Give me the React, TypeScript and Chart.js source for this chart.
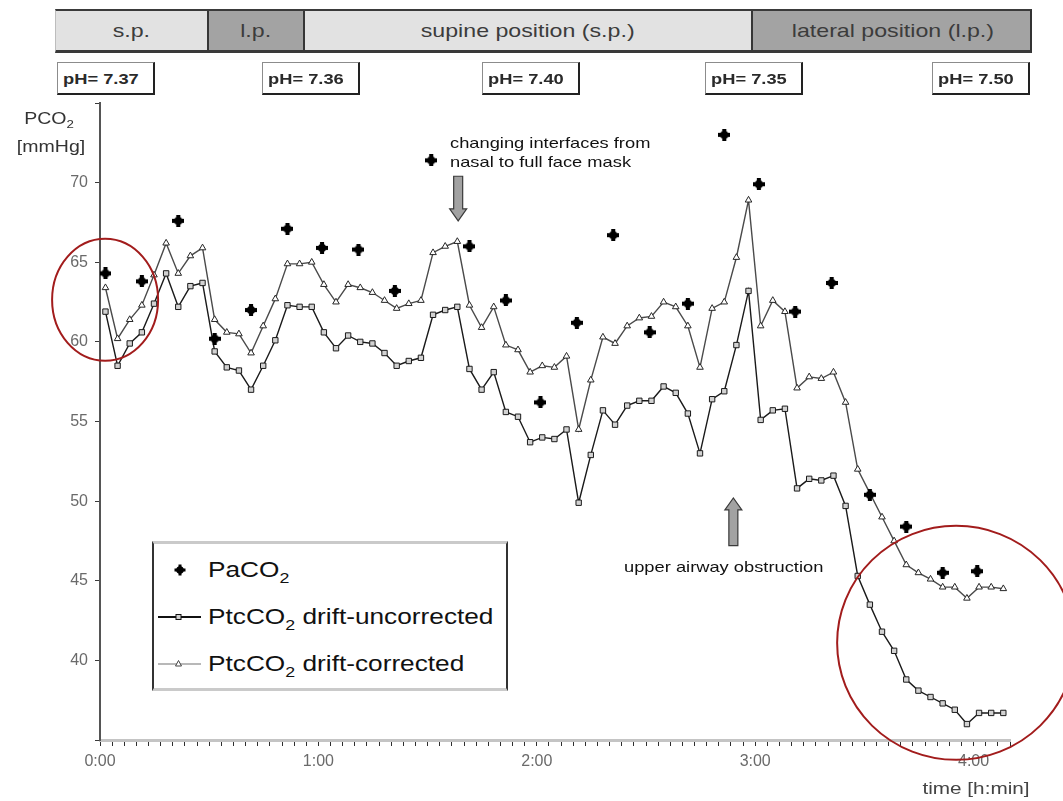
import React, { useEffect, useRef } from 'react';
import { Chart, registerables } from 'chart.js';

Chart.register(...registerables);

// ---- data -----------------------------------------------------------------

// Transcutaneous PCO2 is logged every 200 s (3 min 20 s)
const SAMPLE_STEP_MIN = 10 / 3;
const FIRST_SAMPLE_MIN = 1.5;

// PtcCO2 as displayed by the monitor (mmHg)
const PTCCO2_UNCORRECTED = [
  61.9, 58.5, 59.9, 60.6, 62.4, 64.3, 62.2, 63.5, 63.7, 59.4,
  58.4, 58.2, 57.0, 58.5, 60.1, 62.3, 62.2, 62.2, 60.6, 59.6,
  60.4, 60.0, 59.9, 59.3, 58.5, 58.8, 59.0, 61.7, 62.0, 62.2,
  58.3, 57.0, 58.1, 55.6, 55.3, 53.7, 54.0, 53.9, 54.5, 49.9,
  52.9, 55.7, 54.8, 56.0, 56.3, 56.3, 57.2, 56.8, 55.5, 53.0,
  56.4, 56.9, 59.8, 63.2, 55.1, 55.7, 55.8, 50.8, 51.4, 51.3,
  51.6, 49.7, 45.3, 43.5, 41.8, 40.6, 38.8, 38.1, 37.7, 37.3,
  36.9, 36.0, 36.7, 36.7, 36.7,
];

// PtcCO2 after drift correction (mmHg)
const PTCCO2_CORRECTED = [
  63.4, 60.2, 61.4, 62.3, 64.2, 66.2, 64.3, 65.4, 65.9, 61.4,
  60.6, 60.5, 59.3, 61.0, 62.7, 64.9, 64.9, 65.0, 63.6, 62.5,
  63.6, 63.4, 63.1, 62.6, 62.1, 62.4, 62.6, 65.6, 66.0, 66.3,
  62.3, 60.9, 62.2, 59.8, 59.5, 58.1, 58.5, 58.4, 59.1, 54.5,
  57.6, 60.3, 59.9, 61.0, 61.5, 61.6, 62.5, 62.2, 61.0, 58.4,
  62.1, 62.5, 65.3, 68.9, 61.0, 62.6, 61.9, 57.1, 57.8, 57.7,
  58.1, 56.2, 52.0, 50.5, 49.0, 47.5, 46.0, 45.5, 45.1, 44.6,
  44.6, 43.9, 44.6, 44.6, 44.5,
];

// Arterial blood gas samples: time (min) and PaCO2 (mmHg)
const PACO2_TIMES = [
  1.5, 11.5, 21.5, 31.5, 41.5, 51.5, 61, 71, 81, 91, 101.5, 111.5, 121,
  131, 141, 151, 161.5, 171.5, 181, 191, 201, 211.5, 221.5, 231.5, 241,
];
const PACO2_VALUES = [
  64.3, 63.8, 67.6, 60.2, 62.0, 67.1, 65.9, 65.8, 63.2, 71.4, 66.0, 62.6, 56.2,
  61.2, 66.7, 60.6, 62.4, 73.0, 69.9, 61.9, 63.7, 50.4, 48.4, 45.5, 45.6,
];

const X_TICK_LABELS = ['0:00', '1:00', '2:00', '3:00', '4:00'];
const X_MAX_MIN = 250;
const Y_MIN = 35;
const Y_MAX = 75;
const Y_STEP = 5;

const POSITION_PHASES = ['s.p.', 'l.p.', 'supine position (s.p.)', 'lateral position (l.p.)'];
const PH_VALUES = ['7.37', '7.36', '7.40', '7.35', '7.50'];

// ---- layout & style -------------------------------------------------------

const W = 1063;
const H = 801;
const FONT = '"Liberation Sans", Arial, Helvetica, sans-serif';
const STRETCH = 1.22;

const PHASE_EDGES_PX = [55, 207, 303, 751, 1032];
const PHASE_SHADES = ['#e2e2e2', '#a3a3a3', '#e2e2e2', '#a3a3a3'];
const PH_BOX_LEFT_PX = [57, 262, 482, 705, 932];

// annotation arrows (time in min, from/to in mmHg)
const MASK_ARROW = { t: 98.4, from: 70.4, to: 67.6 };
const AIRWAY_ARROW = { t: 174, from: 47.2, to: 50.2 };
// highlighted regions (centre in data units, radii in px)
const HIGHLIGHTS = [
  { t: 1.4, v: 62.65, rx: 53, ry: 61 },
  { t: 235.2, v: 41.1, rx: 119, ry: 117 },
];

// four-pointed blob used for the arterial samples
function makeStarMarker(size: number) {
  const c = document.createElement('canvas');
  c.width = size;
  c.height = size;
  const g = c.getContext('2d')!;
  const m = size / 2;
  const arm = size * 0.17;
  g.fillStyle = '#000';
  g.fillRect(m - arm, 0, arm * 2, size);
  g.fillRect(0, m - arm, size, arm * 2);
  g.beginPath();
  g.arc(m, m, size * 0.36, 0, Math.PI * 2);
  g.fill();
  return c;
}

function drawBlockArrow(ctx: CanvasRenderingContext2D, cx: number, yTail: number, yTip: number) {
  const dir = Math.sign(yTip - yTail);
  const headLen = 12;
  const shaftHalf = 4.5;
  const headHalf = 8.5;
  const yNeck = yTip - dir * headLen;
  ctx.beginPath();
  ctx.moveTo(cx - shaftHalf, yTail);
  ctx.lineTo(cx + shaftHalf, yTail);
  ctx.lineTo(cx + shaftHalf, yNeck);
  ctx.lineTo(cx + headHalf, yNeck);
  ctx.lineTo(cx, yTip);
  ctx.lineTo(cx - headHalf, yNeck);
  ctx.lineTo(cx - shaftHalf, yNeck);
  ctx.closePath();
  ctx.fillStyle = '#a2a2a2';
  ctx.fill();
  ctx.strokeStyle = '#3a3a3a';
  ctx.lineWidth = 1.2;
  ctx.stroke();
}

const decorations = {
  id: 'decorations',
  afterDraw(chart: any) {
    const { ctx } = chart;
    const x = chart.scales.x;
    const y = chart.scales.y;
    ctx.save();
    drawBlockArrow(ctx, x.getPixelForValue(MASK_ARROW.t), y.getPixelForValue(MASK_ARROW.from), y.getPixelForValue(MASK_ARROW.to));
    drawBlockArrow(ctx, x.getPixelForValue(AIRWAY_ARROW.t), y.getPixelForValue(AIRWAY_ARROW.from), y.getPixelForValue(AIRWAY_ARROW.to));
    ctx.strokeStyle = '#a21c1c';
    ctx.lineWidth = 2;
    for (const h of HIGHLIGHTS) {
      ctx.beginPath();
      ctx.ellipse(x.getPixelForValue(h.t), y.getPixelForValue(h.v), h.rx, h.ry, 0, 0, Math.PI * 2);
      ctx.stroke();
    }
    ctx.restore();
  },
};

const Sub = ({ children }: { children: React.ReactNode }) => (
  <span style={{ fontSize: '0.68em', position: 'relative', top: '0.4em' }}>{children}</span>
);

const stretched = (origin: string): React.CSSProperties => ({
  display: 'inline-block',
  transform: `scaleX(${STRETCH})`,
  transformOrigin: origin,
  whiteSpace: 'nowrap',
});

export default function App() {
  const canvasRef = useRef<HTMLCanvasElement>(null);

  useEffect(() => {
    const star = makeStarMarker(12);
    const sampleTime = (i: number) => FIRST_SAMPLE_MIN + i * SAMPLE_STEP_MIN;
    const xTicks: { value: number }[] = [];
    for (let i = 0; i * SAMPLE_STEP_MIN <= X_MAX_MIN + 1e-6; i++) xTicks.push({ value: i * SAMPLE_STEP_MIN });
    const yTicks: { value: number }[] = [];
    for (let v = Y_MIN; v <= Y_MAX; v += Y_STEP) yTicks.push({ value: v });
    const ticksPerHour = Math.round(60 / SAMPLE_STEP_MIN);

    const chart = new Chart(canvasRef.current!, {
      type: 'line',
      data: {
        datasets: [
          {
            label: 'PaCO2',
            data: PACO2_TIMES.map((t, i) => ({ x: t, y: PACO2_VALUES[i] })),
            showLine: false,
            pointStyle: star as any,
            pointRadius: 6,
          },
          {
            label: 'PtcCO2 drift-uncorrected',
            data: PTCCO2_UNCORRECTED.map((v, i) => ({ x: sampleTime(i), y: v })),
            borderColor: '#1a1a1a',
            borderWidth: 1.4,
            pointStyle: 'rect',
            pointRadius: 3.8,
            pointBackgroundColor: '#d2d2d2',
            pointBorderColor: '#1a1a1a',
            pointBorderWidth: 1,
          },
          {
            label: 'PtcCO2 drift-corrected',
            data: PTCCO2_CORRECTED.map((v, i) => ({ x: sampleTime(i), y: v })),
            borderColor: '#4a4a4a',
            borderWidth: 1.4,
            pointStyle: 'triangle',
            pointRadius: 3.8,
            pointBackgroundColor: '#ffffff',
            pointBorderColor: '#262626',
            pointBorderWidth: 1,
          },
        ],
      },
      options: {
        animation: false,
        responsive: false,
        devicePixelRatio: 1,
        layout: { padding: { top: 103, right: W - 1010, bottom: 0, left: 0 } },
        plugins: { legend: { display: false }, tooltip: { enabled: false } },
        scales: {
          x: {
            type: 'linear',
            min: 0,
            max: X_MAX_MIN,
            afterBuildTicks: (s: any) => { s.ticks = xTicks.map((t) => ({ ...t })); },
            afterFit: (s: any) => { s.height = H - 740; },
            ticks: {
              autoSkip: false,
              maxRotation: 0,
              padding: 6,
              color: '#6a6a6a',
              font: { family: FONT, size: 16 },
              callback: (_v: any, index: number) =>
                index % ticksPerHour === 0 ? X_TICK_LABELS[index / ticksPerHour] ?? '' : '',
            },
            grid: { drawOnChartArea: false, drawTicks: true, tickLength: 6, color: '#2e2e2e', lineWidth: 1 },
            border: { display: true, color: '#c4c4c4', width: 3 },
          },
          y: {
            min: Y_MIN,
            max: Y_MAX,
            afterBuildTicks: (s: any) => { s.ticks = yTicks.map((t) => ({ ...t })); },
            afterFit: (s: any) => { s.width = 100; },
            ticks: {
              padding: 7,
              color: '#6a6a6a',
              font: { family: FONT, size: 16 },
              callback: (v: any) => (v === Y_MIN || v === Y_MAX ? '' : String(v)),
            },
            grid: { drawOnChartArea: false, drawTicks: true, tickLength: 5, color: '#3a3a3a', lineWidth: 1 },
            border: { display: true, color: '#555555', width: 2 },
          },
        },
      } as any,
      plugins: [decorations],
    });
    return () => chart.destroy();
  }, []);

  const phaseLeft = PHASE_EDGES_PX[0];
  const noteStyle: React.CSSProperties = { ...stretched('left center'), fontSize: 15, color: '#111' };

  return (
    <div
      style={{
        position: 'absolute', left: 0, top: 0, width: W, height: H, overflow: 'hidden',
        background: '#ffffff', fontFamily: FONT,
      }}
    >
      <canvas ref={canvasRef} width={W} height={H} style={{ position: 'absolute', left: 0, top: 0 }} />

      {/* body position bar */}
      <div
        style={{
          position: 'absolute', left: phaseLeft, top: 9, width: PHASE_EDGES_PX[4] - phaseLeft, height: 44,
          boxSizing: 'border-box', overflow: 'hidden',
          borderTop: '2px solid #3a3a3a', borderBottom: '3px solid #3a3a3a',
          borderRight: '2px solid #333', borderLeft: '1px solid #bdbdbd',
        }}
      >
        {POSITION_PHASES.map((label, i) => (
          <div
            key={label}
            style={{
              position: 'absolute', top: 0, bottom: 0,
              left: PHASE_EDGES_PX[i] - phaseLeft - 1,
              width: PHASE_EDGES_PX[i + 1] - PHASE_EDGES_PX[i],
              background: PHASE_SHADES[i], boxSizing: 'border-box',
              borderLeft: i ? '2px solid #363636' : 'none',
              display: 'flex', alignItems: 'center', justifyContent: 'center',
            }}
          >
            <span style={{ ...stretched('center'), fontSize: 19, color: '#3c3c3c' }}>{label}</span>
          </div>
        ))}
      </div>

      {/* pH values */}
      {PH_VALUES.map((ph, i) => (
        <div
          key={i}
          style={{
            position: 'absolute', left: PH_BOX_LEFT_PX[i], top: 62, width: 98, height: 33,
            boxSizing: 'border-box', background: '#fff',
            borderTop: '1px solid #8c8c8c', borderLeft: '1px solid #8c8c8c',
            borderRight: '2px solid #222', borderBottom: '2px solid #222',
            display: 'flex', alignItems: 'center', paddingLeft: 5,
          }}
        >
          <span style={{ ...stretched('left center'), fontWeight: 'bold', fontSize: 15, color: '#2a2a2a' }}>pH= {ph}</span>
        </div>
      ))}

      {/* y axis title */}
      <div style={{ position: 'absolute', left: 49, top: 119, transform: 'translate(-50%,-50%)' }}>
        <span style={{ ...stretched('center'), fontSize: 16, color: '#333' }}>PCO<Sub>2</Sub></span>
      </div>
      <div style={{ position: 'absolute', left: 51, top: 147, transform: 'translate(-50%,-50%)' }}>
        <span style={{ ...stretched('center'), fontSize: 16, color: '#333' }}>[mmHg]</span>
      </div>

      {/* x axis title */}
      <div style={{ position: 'absolute', left: 976, top: 789, transform: 'translate(-50%,-50%)' }}>
        <span style={{ ...stretched('center'), fontSize: 17, color: '#444' }}>time [h:min]</span>
      </div>

      {/* annotations */}
      <div style={{ position: 'absolute', left: 450, top: 143, transform: 'translateY(-50%)' }}>
        <span style={noteStyle}>changing interfaces from</span>
      </div>
      <div style={{ position: 'absolute', left: 450, top: 162, transform: 'translateY(-50%)' }}>
        <span style={noteStyle}>nasal to full face mask</span>
      </div>
      <div style={{ position: 'absolute', left: 624, top: 567, transform: 'translateY(-50%)' }}>
        <span style={noteStyle}>upper airway obstruction</span>
      </div>

      {/* legend */}
      <div
        style={{
          position: 'absolute', left: 152, top: 541, width: 356, height: 150, boxSizing: 'border-box',
          background: '#fff', borderLeft: '2px solid #333', borderRight: '2px solid #333',
          borderTop: '3px solid #cacaca', borderBottom: '3px solid #cacaca',
        }}
      >
        {[
          {
            y: 26,
            icon: (
              <svg width={44} height={14}>
                <rect x={20.5} y={1.5} width={3} height={11} fill="#000" />
                <rect x={16.5} y={5.5} width={11} height={3} fill="#000" />
                <circle cx={22} cy={7} r={3.8} fill="#000" />
              </svg>
            ),
            text: <>PaCO<Sub>2</Sub></>,
          },
          {
            y: 73,
            icon: (
              <svg width={44} height={14}>
                <line x1={0} y1={7} x2={43} y2={7} stroke="#111" strokeWidth={2} />
                <rect x={18} y={4.5} width={5} height={5} fill="#d0d0d0" stroke="#111" strokeWidth={1} />
              </svg>
            ),
            text: <>PtcCO<Sub>2</Sub> drift-uncorrected</>,
          },
          {
            y: 120,
            icon: (
              <svg width={44} height={14}>
                <line x1={0} y1={7} x2={43} y2={7} stroke="#b8b8b8" strokeWidth={2} />
                <path d="M20.5 3.5 L23.5 9 L17.5 9 Z" fill="#fff" stroke="#444" strokeWidth={1} />
              </svg>
            ),
            text: <>PtcCO<Sub>2</Sub> drift-corrected</>,
          },
        ].map((row, i) => (
          <React.Fragment key={i}>
            <div style={{ position: 'absolute', left: 4, top: row.y - 7, height: 14 }}>{row.icon}</div>
            <div style={{ position: 'absolute', left: 54, top: row.y, transform: 'translateY(-50%)' }}>
              <span style={{ ...stretched('left center'), fontSize: 21.5, color: '#111' }}>{row.text}</span>
            </div>
          </React.Fragment>
        ))}
      </div>
    </div>
  );
}
